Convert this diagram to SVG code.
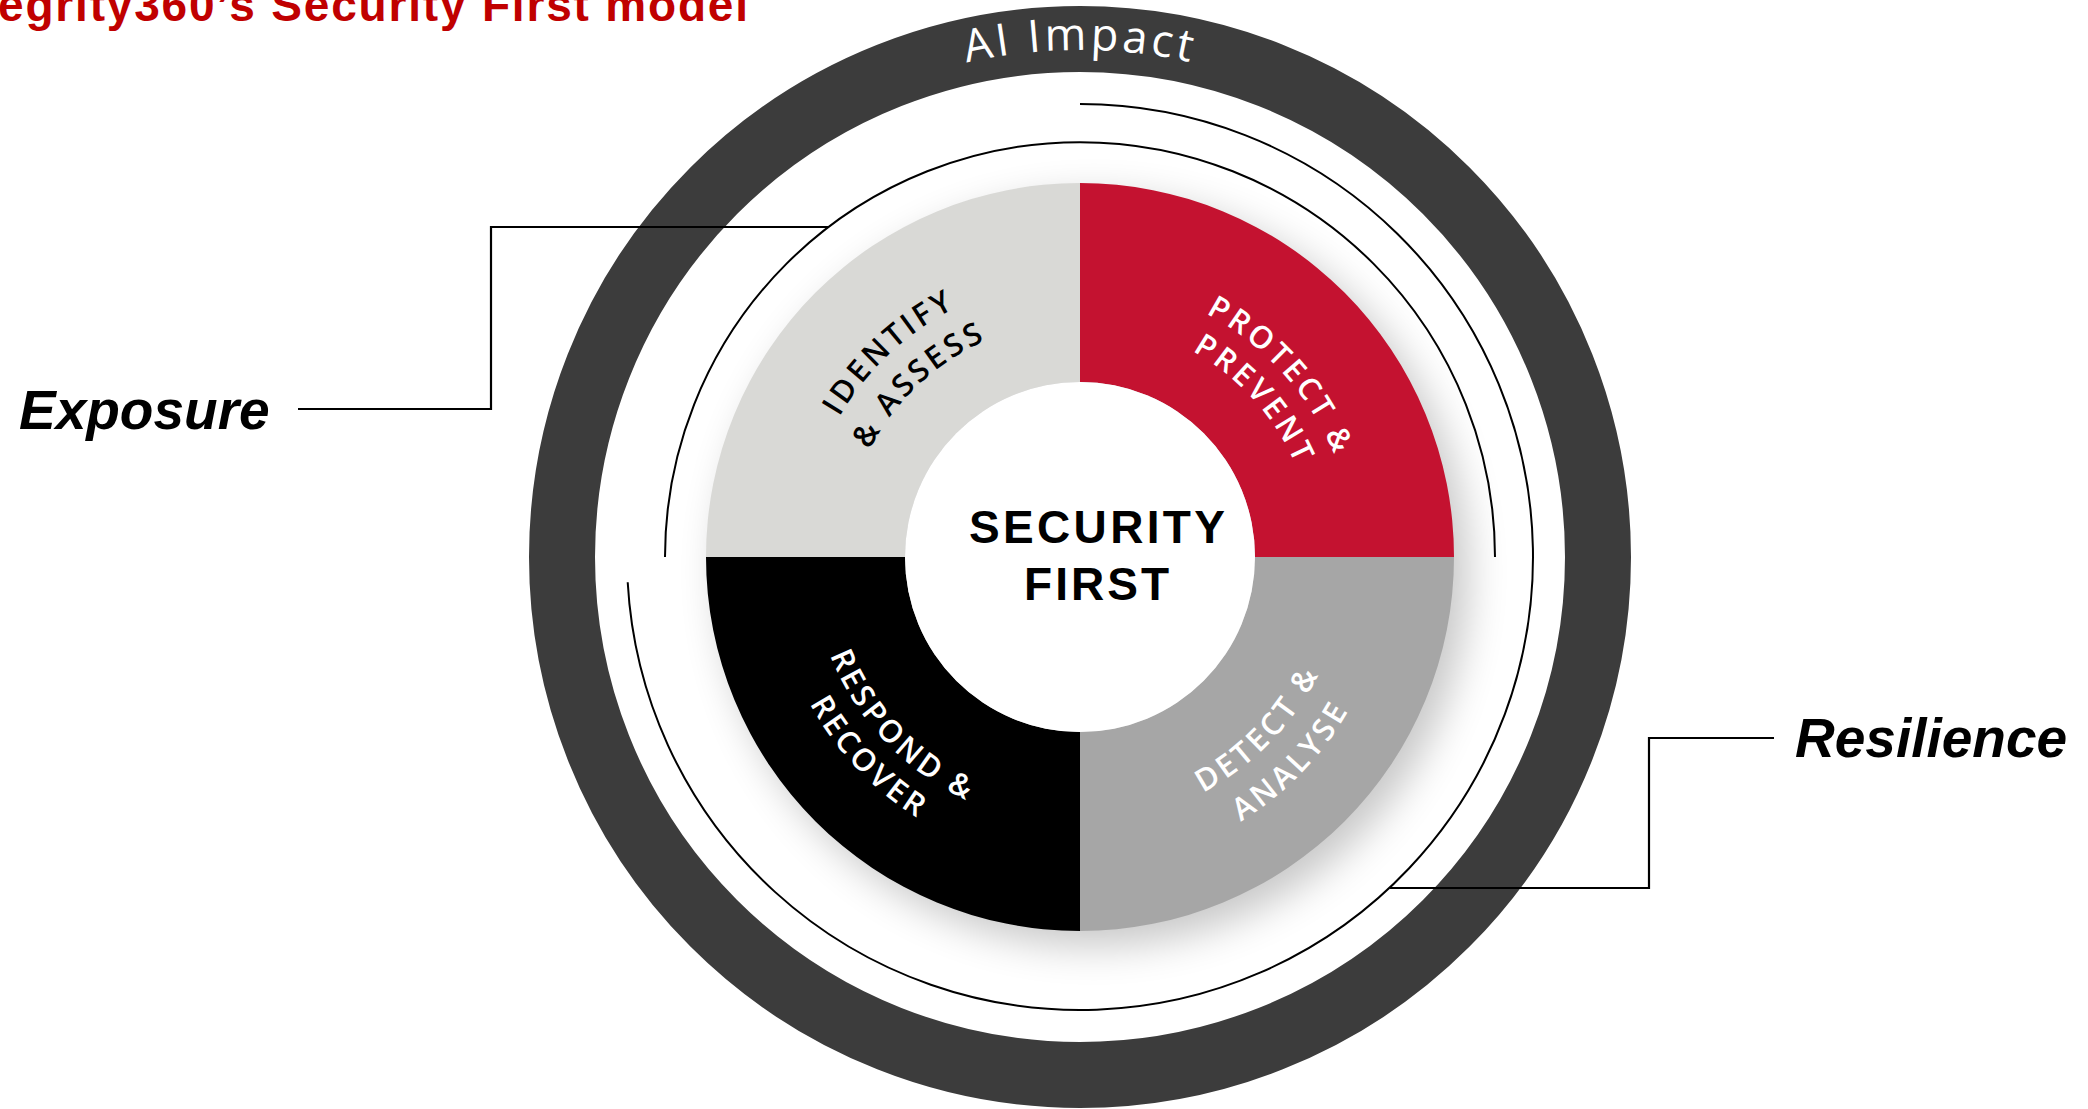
<svg xmlns="http://www.w3.org/2000/svg" width="2088" height="1109" viewBox="0 0 2088 1109">
  <defs>
    <style>
      .q-label { font-family: "Open Sans", "Noto Sans", sans-serif; font-size: 31px; font-weight: 600; letter-spacing: 3.5px; }
      .side { font-family: "Liberation Sans", Arial, sans-serif; font-size: 55px; font-weight: bold; font-style: italic; fill: #000; }
      .thin { fill: none; stroke: #000; stroke-width: 2; }
      .lead { fill: none; stroke: #000; stroke-width: 2.2; }
    </style>
    <filter id="soft" x="-30%" y="-30%" width="160%" height="160%">
      <feGaussianBlur stdDeviation="20"/>
    </filter>
    <path id="p-ai" d="M573,557 A507,507 0 0 1 1587,557"/>
    <path id="p-id1" d="M876.2,747.0 A278.6,278.6 0 0 1 1283.8,367.0"/>
    <path id="p-id2" d="M904.8,720.4 A239.6,239.6 0 0 1 1255.2,393.6"/>
    <path id="p-pr1" d="M893.6,350.0 A278.6,278.6 0 0 1 1266.4,764.0"/>
    <path id="p-pr2" d="M919.7,379.0 A239.6,239.6 0 0 1 1240.3,735.0"/>
    <path id="p-rr1" d="M895.2,362.3 A268.4,268.4 0 0 0 1264.8,751.7"/>
    <path id="p-rr2" d="M867.0,332.6 A309.4,309.4 0 0 0 1293.0,781.4"/>
    <path id="p-da1" d="M893.5,750.0 A268.4,268.4 0 0 0 1266.5,364.0"/>
    <path id="p-da2" d="M865.1,779.6 A309.4,309.4 0 0 0 1294.9,334.4"/>
  </defs>

  <rect width="2088" height="1109" fill="#ffffff"/>

  <g id="title">
    <text x="-2" y="21" font-family="Liberation Sans, Arial, sans-serif" font-size="46" font-weight="bold" fill="#C00000" textLength="750" lengthAdjust="spacing">egrity360’s Security First model</text>
  </g>

  <g id="ai-impact">
    <circle cx="1080" cy="557" r="518" fill="none" stroke="#3C3C3C" stroke-width="66"/>
    <text font-family="Open Sans, Noto Sans, sans-serif" font-size="45" font-weight="500" fill="#ffffff" letter-spacing="3.5" text-anchor="middle">
      <textPath href="#p-ai" startOffset="50%">AI Impact</textPath>
    </text>
  </g>

  <g id="shadow">
    <circle cx="1094" cy="572" r="374" fill="#000" opacity="0.22" filter="url(#soft)"/>
  </g>

  <g id="identify-assess">
    <path d="M706,557 A374,374 0 0 1 1080,183 L1080,382 A175,175 0 0 0 905,557 Z" fill="#D9D9D6"/>
    <text class="q-label" fill="#000" text-anchor="middle"><textPath href="#p-id1" startOffset="50%">IDENTIFY</textPath></text>
    <text class="q-label" fill="#000" text-anchor="middle"><textPath href="#p-id2" startOffset="50%">&amp; ASSESS</textPath></text>
  </g>

  <g id="protect-prevent">
    <path d="M1080,183 A374,374 0 0 1 1454,557 L1255,557 A175,175 0 0 0 1080,382 Z" fill="#C41230"/>
    <text class="q-label" fill="#fff" text-anchor="middle"><textPath href="#p-pr1" startOffset="50%">PROTECT &amp;</textPath></text>
    <text class="q-label" fill="#fff" text-anchor="middle"><textPath href="#p-pr2" startOffset="50%">PREVENT</textPath></text>
  </g>

  <g id="detect-analyse">
    <path d="M1454,557 A374,374 0 0 1 1080,931 L1080,732 A175,175 0 0 0 1255,557 Z" fill="#A6A6A6"/>
    <text class="q-label" fill="#fff" text-anchor="middle"><textPath href="#p-da1" startOffset="50%">DETECT &amp;</textPath></text>
    <text class="q-label" fill="#fff" text-anchor="middle"><textPath href="#p-da2" startOffset="50%">ANALYSE</textPath></text>
  </g>

  <g id="respond-recover">
    <path d="M1080,931 A374,374 0 0 1 706,557 L905,557 A175,175 0 0 0 1080,732 Z" fill="#000000"/>
    <text class="q-label" fill="#fff" text-anchor="middle"><textPath href="#p-rr1" startOffset="50%">RESPOND &amp;</textPath></text>
    <text class="q-label" fill="#fff" text-anchor="middle"><textPath href="#p-rr2" startOffset="50%">RECOVER</textPath></text>
  </g>

  <g id="security-first">
    <circle cx="1080" cy="557" r="175" fill="#ffffff"/>
    <text x="969" y="543" font-family="Liberation Sans, Arial, sans-serif" font-size="46" font-weight="bold" fill="#000" textLength="256" lengthAdjust="spacing">SECURITY</text>
    <text x="1024" y="600" font-family="Liberation Sans, Arial, sans-serif" font-size="46" font-weight="bold" fill="#000" textLength="145" lengthAdjust="spacing">FIRST</text>
  </g>

  <g id="connectors">
    <path class="thin" d="M665,557 A415,415 0 0 1 1495,557"/>
    <path class="thin" d="M1080,104 A453,453 0 1 1 627.7,582.3"/>
    <path class="lead" d="M298,409 H491 V227 H828"/>
    <path class="lead" d="M1390,888 H1649 V738 H1774"/>
  </g>

  <g id="exposure">
    <text class="side" x="19" y="429">Exposure</text>
  </g>

  <g id="resilience">
    <text class="side" x="1795" y="757">Resilience</text>
  </g>
</svg>
